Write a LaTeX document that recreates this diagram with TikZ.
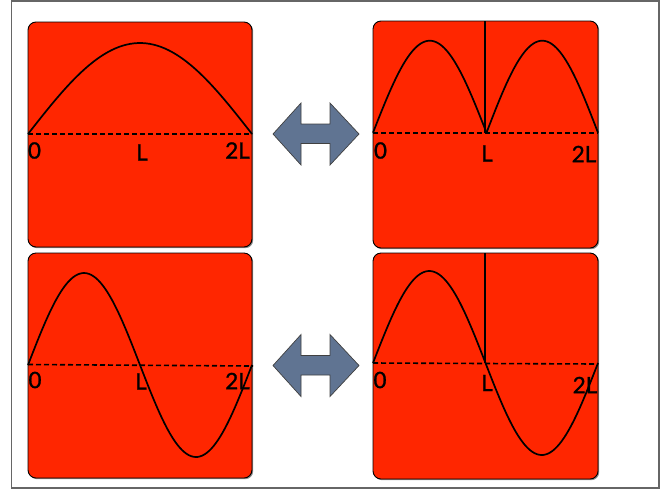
\documentclass[tikz,border=0pt]{standalone}
\usepackage{fontspec}
\setmainfont{Lato}
\newfontfamily\labfont{Lato}[FakeBold=1.2]
\usetikzlibrary{shadows}
\definecolor{panelred}{RGB}{255,38,0}
\definecolor{arrowblue}{RGB}{96,116,146}
\tikzset{
  panel/.style={draw=black, line width=0.9pt, fill=panelred, rounded corners=8pt,
    drop shadow={shadow xshift=1.2pt, shadow yshift=-1.2pt, opacity=0.45, fill=black}},
  axisline/.style={dashed, dash pattern=on 5pt off 3pt, line width=1.6pt},
  wave/.style={line width=1.7pt, smooth},
  lab/.style={font=\labfont\fontsize{22.5}{22.5}\selectfont, inner sep=0pt},
  dblarrow/.style={fill=arrowblue, draw=black!75, line width=0.7pt},
}
\begin{document}
\begin{tikzpicture}[x=1pt,y=-1pt]
\useasboundingbox (0,0) rectangle (671,491);
\draw[line width=1.3pt, draw=black!60] (11.7,1) rectangle (659,488);
% panels
\path[panel] (28,22) rectangle (252,247);
\path[panel] (373,21) rectangle (598,248);
\path[panel] (28,253) rectangle (252,478);
\path[panel] (373,253) rectangle (598,479);
% ---- top left
\coordinate (tl0) at (28,134);
\coordinate (tl2) at (252,134);
\draw[axisline] (tl0) -- (tl2);
\draw[wave] plot[domain=0:180, samples=60, variable=\t] ({28+1.24444*\t},{134-91*sin(\t)});
\node[lab] (tlA) at (34.5,150.5) {0};
\node[lab] (tlB) at (142,152.5) {L};
\node[lab] (tlC) at (237.5,150.5) {2L};
% ---- top right
\coordinate (tr0) at (373,132.7);
\coordinate (tr2) at (598,132.7);
\coordinate (trL) at (485,132.7);
\coordinate (trT) at (485,21);
\draw[axisline] (tr0) -- (tr2);
\draw[wave] plot[domain=0:180, samples=60, variable=\t] ({373+0.63056*\t},{132.7-92*sin(\t)});
\draw[wave] plot[domain=0:180, samples=60, variable=\t] ({486.5+0.61944*\t},{132.7-92*sin(\t)});
\draw[line width=1.4pt] (trT) -- (trL);
\node[lab] (trA) at (380.5,150.5) {0};
\node[lab] (trB) at (487,153.5) {L};
\node[lab] (trC) at (584,154) {2L};
% ---- bottom left
\coordinate (bl0) at (28,364.5);
\coordinate (bl2) at (253,366);
\draw[axisline] (bl0) -- (bl2);
\draw[wave] plot[domain=0:360, samples=100, variable=\t] ({28+0.62222*\t},{365-92*sin(\t)});
\node[lab] (blA) at (35,380) {0};
\node[lab] (blB) at (141,381.5) {L};
\node[lab] (blC) at (237.5,381) {2L};
% ---- bottom right
\coordinate (br0) at (373,363);
\coordinate (br2) at (598,364);
\coordinate (brL) at (485,363);
\coordinate (brT) at (485,253);
\draw[axisline] (br0) -- (br2);
\draw[wave] plot[domain=0:360, samples=100, variable=\t] ({373+0.625*\t},{363-92*sin(\t)});
\draw[line width=1.4pt] (brT) -- (brL);
\node[lab] (brA) at (380,380) {0};
\node[lab] (brB) at (487,383) {L};
\node[lab] (brC) at (585,385) {2L};
% ---- double arrows
\foreach \cy/\nm in {134/ta, 365.5/ba}{
  \draw[dblarrow] (273,\cy) -- (301,\cy-31) -- (301,\cy-10) -- (330,\cy-10) -- (330,\cy-31)
    -- (359,\cy) -- (330,\cy+31) -- (330,\cy+9.5) -- (301,\cy+9.5) -- (301,\cy+31) -- cycle;
  \coordinate (\nm) at (316,\cy);
}
\end{tikzpicture}
\end{document}
